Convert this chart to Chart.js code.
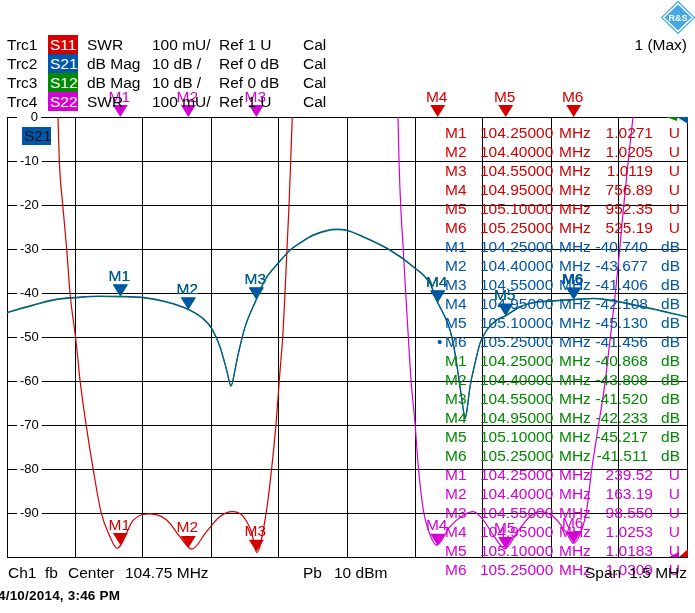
<!DOCTYPE html>
<html>
<head>
<meta charset="utf-8">
<title>S-Parameter sweep 104.75 MHz</title>
<script src="https://cdn.jsdelivr.net/npm/chart.js@4.4.1/dist/chart.umd.min.js"></script>
<style>
  html, body { margin: 0; padding: 0; background: #fff; }
  #screen { position: relative; width: 695px; height: 613px; overflow: hidden;
            font-family: "Liberation Sans", Arial, sans-serif; font-size: 15.5px; color: #000; }
  #screen canvas { position: absolute; left: 0; top: 0; }
  #overlay { position: absolute; left: 0; top: 0; width: 695px; height: 613px; pointer-events: none; }
  .txt { position: absolute; white-space: pre; line-height: 19px; height: 19px; }
  .badge { position: absolute; width: 30px; height: 19px; line-height: 19px; color: #fff;
           padding-left: 2px; box-sizing: border-box; white-space: pre; }
</style>
</head>
<body>
<div id="screen">
  <canvas id="diagram" width="695" height="613"></canvas>
  <div id="overlay"></div>
</div>
<script>
// grille : 10 divisions de 0.15 MHz, 10 divisions de 10 dB
const xDivs = [104.00, 104.15, 104.30, 104.45, 104.60, 104.75, 104.90, 105.05, 105.20, 105.35, 105.50];
const yTicks = [0, -10, -20, -30, -40, -50, -60, -70, -80, -90];

// en-tête des traces
const traceNames = ['Trc1', 'Trc2', 'Trc3', 'Trc4'];
const sParams = ['S11', 'S21', 'S12', 'S22'];
const formats = ['SWR', 'dB Mag', 'dB Mag', 'SWR'];
const scaleDivs = ['100 mU/', '10 dB /', '10 dB /', '100 mU/'];
const refLevels = ['Ref 1 U', 'Ref 0 dB', 'Ref 0 dB', 'Ref 1 U'];

// marqueurs
const markerNames = ['M1', 'M2', 'M3', 'M4', 'M5', 'M6'];
const markerFreqs = [104.25, 104.40, 104.55, 104.95, 105.10, 105.25];
const s11Markers = [1.0271, 1.0205, 1.0119, 756.89, 952.35, 525.19];
const s21Markers = [-40.740, -43.677, -41.406, -42.108, -45.130, -41.456];
const s12Markers = [-40.868, -43.808, -41.520, -42.233, -45.217, -41.511];
const s22Markers = [239.52, 163.19, 98.550, 1.0253, 1.0183, 1.0309];

// S11 (SWR), partie visible
const s11Freq = [104.1125, 104.1154, 104.1229, 104.1317, 104.1390, 104.1511, 104.1544, 104.1610, 104.1743,
  104.1897, 104.2074, 104.2272, 104.2426, 104.2786, 104.3154, 104.3523, 104.3816, 104.4074, 104.4405,
  104.4699, 104.4970, 104.5213, 104.5398, 104.5508, 104.5713, 104.5839, 104.5934, 104.6007, 104.6060,
  104.6082, 104.6132, 104.6176, 104.6221, 104.6258, 104.6293];
const s11Swr = [2.000, 1.900, 1.800, 1.700, 1.600, 1.500, 1.470, 1.402, 1.302,
  1.202, 1.102, 1.046, 1.020, 1.084, 1.098, 1.084, 1.046, 1.018, 1.058,
  1.092, 1.103, 1.092, 1.055, 1.010, 1.098, 1.202, 1.302, 1.402, 1.470,
  1.498, 1.600, 1.700, 1.800, 1.900, 2.000];

// S22 (SWR), partie visible
const s22Freq = [104.8625, 104.8647, 104.8685, 104.8742, 104.8795, 104.8852, 104.8912, 104.9000, 104.9073,
  104.9183, 104.9294, 104.9479, 104.9772, 105.0066, 105.0286, 105.0507, 105.0727, 105.0985, 105.1243,
  105.1537, 105.1757, 105.2051, 105.2346, 105.2492, 105.2677, 105.2787, 105.2897, 105.3043, 105.3191,
  105.3301, 105.3412, 105.3507, 105.3595, 105.3705, 105.3809];
const s22Swr = [2.000, 1.902, 1.797, 1.698, 1.600, 1.501, 1.402, 1.305, 1.205,
  1.107, 1.061, 1.027, 1.069, 1.095, 1.103, 1.084, 1.050, 1.019, 1.055,
  1.092, 1.103, 1.092, 1.054, 1.031, 1.061, 1.107, 1.198, 1.296, 1.395,
  1.493, 1.592, 1.690, 1.789, 1.902, 2.000];

// S21 / S12 (dB)
const dbFreq = [104.0000, 104.0580, 104.1096, 104.1507, 104.2051, 104.2500, 104.3007, 104.3523, 104.4000, 104.4330,
  104.4515, 104.4699, 104.4846, 104.4941, 104.5029, 104.5080, 104.5250, 104.5500, 104.5691, 104.6007,
  104.6243, 104.6463, 104.6757, 104.7273, 104.7493, 104.7860, 104.8447, 104.8963, 104.9331, 104.9500,
  104.9624, 104.9772, 104.9882, 104.9993, 105.0066, 105.0103, 105.0140, 105.0213, 105.0324, 105.0434,
  105.0582, 105.0802, 105.1000, 105.1316, 105.1684, 105.1978, 105.2500, 105.2926, 105.4036, 105.5000];
const s21Db = [-44.4, -42.7, -41.4, -41.0, -40.7, -40.74, -41.0, -42.0, -43.68, -45.8,
  -48.0, -52.2, -57.5, -61.0, -57.5, -54.8, -47.7, -41.41, -37.0, -32.9,
  -30.2, -28.6, -26.8, -25.5, -25.7, -27.2, -30.2, -34.0, -37.8, -42.11,
  -44.6, -48.4, -53.6, -61.3, -66.5, -68.5, -67.0, -61.3, -55.9, -51.4,
  -48.4, -46.1, -45.13, -43.1, -42.0, -41.8, -41.46, -41.2, -43.1, -45.4];
const s12Db = [-44.5, -42.8, -41.5, -41.1, -40.8, -40.87, -41.1, -42.1, -43.81, -45.9,
  -48.1, -52.3, -57.6, -61.2, -57.6, -54.9, -47.8, -41.52, -37.1, -33.0,
  -30.3, -28.7, -26.9, -25.6, -25.8, -27.3, -30.3, -34.1, -37.9, -42.23,
  -44.7, -48.5, -53.7, -61.4, -66.6, -68.6, -67.1, -61.4, -56.0, -51.5,
  -48.5, -46.2, -45.22, -43.2, -42.1, -41.9, -41.51, -41.3, -43.2, -45.5];

const RED = '#d40000', BLUE = '#0056a8', GREEN = '#008a00', MAGENTA = '#d400d4';
const traceColors = [RED, BLUE, GREEN, MAGENTA];
const FONT = '"Liberation Sans", Arial, sans-serif';

// ---- textes HTML ----
const overlay = document.getElementById('overlay');
function addText(txt, left, top, color, right) {
  const d = document.createElement('div');
  d.className = 'txt';
  d.textContent = txt;
  d.style.top = top + 'px';
  if (right) { d.style.right = (695 - left) + 'px'; } else { d.style.left = left + 'px'; }
  if (color) d.style.color = color;
  overlay.appendChild(d);
  return d;
}

for (let i = 0; i < 4; i++) {
  const top = 34.5 + 19 * i;
  addText(traceNames[i], 7, top);
  const b = document.createElement('div');
  b.className = 'badge';
  b.textContent = sParams[i];
  b.style.left = '48px';
  b.style.top = top + 'px';
  b.style.background = traceColors[i];
  overlay.appendChild(b);
  addText(formats[i], 87, top);
  addText(scaleDivs[i], 152, top);
  addText(refLevels[i], 219, top);
  addText('Cal', 303, top);
}
addText('1 (Max)', 687, 34.5, null, true);

// tableau des marqueurs
const tables = [
  { vals: s11Markers, color: RED, unit: 'U' },
  { vals: s21Markers, color: BLUE, unit: 'dB' },
  { vals: s12Markers, color: GREEN, unit: 'dB' },
  { vals: s22Markers, color: MAGENTA, unit: 'U' }
];
tables.forEach((t, ti) => {
  t.vals.forEach((v, mi) => {
    const top = 122.5 + 19 * (ti * 6 + mi);
    addText(markerNames[mi], 445, top, t.color);
    addText(markerFreqs[mi].toFixed(5), 480, top, t.color);
    addText('MHz', 559, top, t.color);
    const txt = t.unit === 'U' ? v.toPrecision(5) : v.toFixed(3);
    addText(txt, t.unit === 'U' ? 653 : 648, top, t.color, true);
    addText(t.unit, 680, top, t.color, true);
    if (ti === 1 && mi === 5) addText('\u2022', 437, top, t.color);
  });
});

// badge dans le diagramme
const inBadge = document.createElement('div');
inBadge.className = 'badge';
inBadge.textContent = 'S21';
Object.assign(inBadge.style, { left: '22px', top: '127px', height: '18px', lineHeight: '18px', width: '29px',
  background: BLUE, color: '#111' });
overlay.appendChild(inBadge);

// pied de page
addText('Ch1', 8, 563);
addText('fb', 45, 563);
addText('Center', 68, 563);
addText('104.75 MHz', 125, 563);
addText('Pb', 303, 563);
addText('10 dBm', 334, 563);
addText('Span', 585, 563);
addText('1.5 MHz', 687, 563, null, true);
const date = addText('4/10/2014, 3:46 PM', -2, 588);
Object.assign(date.style, { fontWeight: 'bold', fontSize: '13.5px', lineHeight: '16px', letterSpacing: '0.2px' });

// logo
overlay.insertAdjacentHTML('beforeend',
  '<svg style="position:absolute;left:661px;top:1px" width="34" height="33" viewBox="0 0 34 33">' +
  '<polygon points="17,0.5 33.5,16.5 17,32.5 0.5,16.5" fill="none" stroke="#45a8e6" stroke-width="1.2"/>' +
  '<polygon points="17,3.5 30.5,16.5 17,29.5 3.5,16.5" fill="#45a8e6"/>' +
  '<text x="17" y="20" text-anchor="middle" font-family="Liberation Sans, Arial" font-size="9" font-weight="bold" fill="#fff">R&amp;S</text>' +
  '</svg>');

// ---- marqueurs dessinés sur le canvas ----
function drawMarker(ctx, x, tip, color, label, bold) {
  ctx.fillStyle = color;
  ctx.beginPath();
  ctx.moveTo(x - 7.5, tip - 12);
  ctx.lineTo(x + 7.5, tip - 12);
  ctx.lineTo(x, tip);
  ctx.closePath();
  ctx.fill();
  ctx.font = (bold ? 'bold ' : '') + '15.5px ' + FONT;
  ctx.textAlign = 'center';
  ctx.textBaseline = 'alphabetic';
  ctx.fillText(label, x - 1, tip - 15.5);
}

const markerPlugin = {
  id: 'rsMarkers',
  afterDatasetsDraw(chart) {
    const ctx = chart.ctx;
    const area = chart.chartArea;
    const xs = chart.scales.x;
    const sets = [
      { vals: s12Markers, axis: 'y', color: GREEN },
      { vals: s21Markers, axis: 'y', color: BLUE, active: 5 },
      { vals: s11Markers, axis: 'swr', color: RED },
      { vals: s22Markers, axis: 'swr', color: MAGENTA }
    ];
    ctx.save();
    sets.forEach(s => {
      const ys = chart.scales[s.axis];
      s.vals.forEach((v, i) => {
        const x = xs.getPixelForValue(markerFreqs[i]);
        let y = ys.getPixelForValue(v);
        if (y < area.top) y = area.top;
        drawMarker(ctx, x, y, s.color, markerNames[i], s.active === i);
      });
    });
    // indicateurs dans les coins
    const tri = (pts, c) => {
      ctx.fillStyle = c; ctx.beginPath();
      ctx.moveTo(pts[0], pts[1]); ctx.lineTo(pts[2], pts[3]); ctx.lineTo(pts[4], pts[5]);
      ctx.closePath(); ctx.fill();
    };
    const r = area.right, t = area.top, b = area.bottom;
    tri([r - 21, t, r - 10, t, r - 10, t + 4], GREEN);
    tri([r - 10, t, r + 1, t, r + 1, t + 7], BLUE);
    tri([r - 18, b, r - 8, b, r - 8, b - 5], MAGENTA);
    tri([r - 8, b, r + 1, b, r + 1, b - 8], RED);
    ctx.restore();
  }
};

const toPoints = (fs, vs) => fs.map((f, i) => ({ x: f, y: vs[i] }));
const gridOpts = { color: '#000', lineWidth: 1, drawTicks: false };

new Chart(document.getElementById('diagram'), {
  type: 'line',
  data: {
    datasets: [
      { label: 'S21', data: toPoints(dbFreq, s21Db), borderColor: BLUE, yAxisID: 'y' },
      { label: 'S12', data: toPoints(dbFreq, s12Db), borderColor: GREEN, yAxisID: 'y' },
      { label: 'S11', data: toPoints(s11Freq, s11Swr), borderColor: RED, yAxisID: 'swr' },
      { label: 'S22', data: toPoints(s22Freq, s22Swr), borderColor: MAGENTA, yAxisID: 'swr' }
    ]
  },
  options: {
    responsive: false,
    animation: false,
    devicePixelRatio: 1,
    layout: { padding: { left: 7, top: 117, right: 8, bottom: 56 } },
    elements: {
      point: { radius: 0 },
      line: { borderWidth: 1.2, cubicInterpolationMode: 'monotone', fill: false }
    },
    plugins: { legend: { display: false }, tooltip: { enabled: false } },
    scales: {
      x: {
        type: 'linear', min: 104.0, max: 105.5,
        afterBuildTicks: s => { s.ticks = xDivs.map(v => ({ value: v })); },
        afterFit: s => { s.height = 0; },
        ticks: { display: false },
        grid: gridOpts,
        border: { color: '#000', width: 1 }
      },
      y: {
        type: 'linear', min: -100, max: 0, position: 'left',
        afterBuildTicks: s => { s.ticks = yTicks.map(v => ({ value: v })); },
        afterFit: s => { s.width = 0; },
        ticks: {
          mirror: true, padding: 13, color: '#000',
          font: { family: FONT, size: 13 },
          showLabelBackdrop: true, backdropColor: '#fff',
          backdropPadding: { top: 0, bottom: 0, left: 3, right: 3 },
          // le 0 est aligné à droite comme les autres valeurs
          callback: v => (v === 0 ? '\u2007\u00a00' : String(v))
        },
        grid: gridOpts,
        border: { color: '#000', width: 1 }
      },
      swr: { type: 'linear', min: 1, max: 2, display: false }
    }
  },
  plugins: [markerPlugin]
});
</script>
</body>
</html>
